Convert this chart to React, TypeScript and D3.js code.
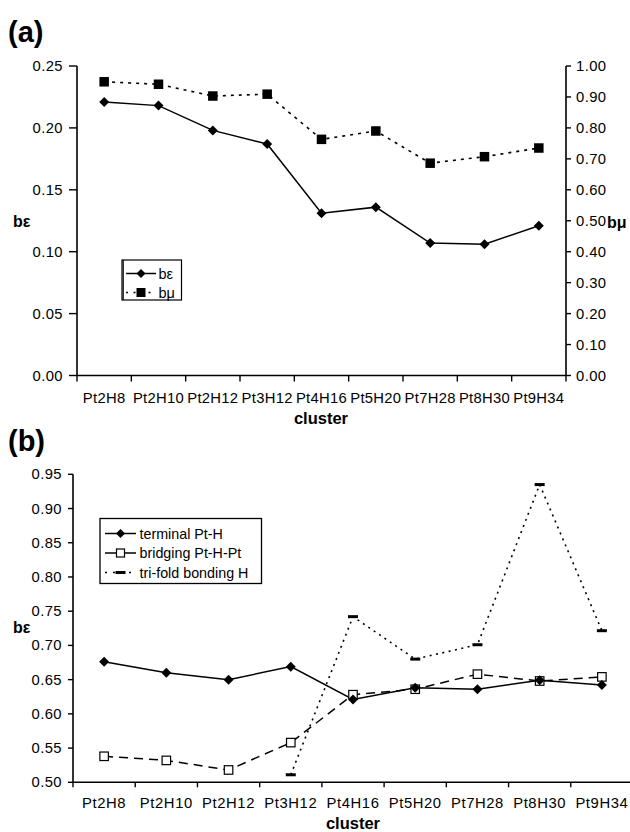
import React from "react";
import * as d3 from "d3";

// Clusters along the x axis (shared by both panels)
const clusters = ["Pt2H8", "Pt2H10", "Pt2H12", "Pt3H12", "Pt4H16", "Pt5H20", "Pt7H28", "Pt8H30", "Pt9H34"];

// Panel (a): bε on the left axis, bμ on the right axis
const bEps = [0.221, 0.218, 0.198, 0.187, 0.131, 0.136, 0.107, 0.106, 0.121];
const bMu = [0.949, 0.941, 0.903, 0.909, 0.763, 0.79, 0.686, 0.707, 0.735];
const ticksA_left = [0, 0.05, 0.1, 0.15, 0.2, 0.25];
const ticksA_right = [0, 0.1, 0.2, 0.3, 0.4, 0.5, 0.6, 0.7, 0.8, 0.9, 1.0];

// Panel (b): bε of the three kinds of hydrogen
const terminal = [0.676, 0.66, 0.65, 0.669, 0.621, 0.638, 0.636, 0.649, 0.642];
const bridging = [0.538, 0.532, 0.518, 0.558, 0.628, 0.636, 0.658, 0.648, 0.654];
const trifold: (number | null)[] = [null, null, null, 0.511, 0.742, 0.68, 0.701, 0.935, 0.7215];
const ticksB = [0.5, 0.55, 0.6, 0.65, 0.7, 0.75, 0.8, 0.85, 0.9, 0.95];

const FONT = "'Liberation Sans', Arial, sans-serif";
const fmt = d3.format(".2f");

function Diamond({ x, y, r = 5 }: { x: number; y: number; r?: number }) {
  return <path d={`M${x},${y - r}L${x + r},${y}L${x},${y + r}L${x - r},${y}Z`} fill="#000" />;
}

function Square({ x, y, s = 9, open = false }: { x: number; y: number; s?: number; open?: boolean }) {
  return (
    <rect
      x={x - s / 2}
      y={y - s / 2}
      width={s}
      height={s}
      fill={open ? "#fff" : "#000"}
      stroke="#000"
      strokeWidth={open ? 1.2 : 0}
    />
  );
}

function Dash({ x, y }: { x: number; y: number }) {
  return <rect x={x - 5} y={y - 1.5} width={10} height={3} fill="#000" />;
}

function PanelA() {
  const x = d3.scaleBand<string>().domain(clusters).range([77, 566]);
  const yL = d3.scaleLinear().domain([0, 0.25]).range([375.5, 66]);
  const yR = d3.scaleLinear().domain([0, 1]).range([375.5, 66]);
  const cx = (c: string) => (x(c) ?? 0) + x.bandwidth() / 2;
  const lineL = d3.line<number>().x((_, i) => cx(clusters[i])).y((d) => yL(d));
  const lineR = d3.line<number>().x((_, i) => cx(clusters[i])).y((d) => yR(d));
  const y0 = yL(0);
  const bounds = clusters.map((c) => x(c) ?? 0).concat([x.range()[1]]);

  return (
    <g fontFamily={FONT} fill="#000">
      <text x={8} y={42} fontSize={29} fontWeight="bold">(a)</text>

      {/* left axis */}
      <line x1={77} x2={77} y1={66} y2={y0} stroke="#000" strokeWidth={1.6} />
      {ticksA_left.map((t) => (
        <g key={t}>
          <line x1={69} x2={77} y1={yL(t)} y2={yL(t)} stroke="#000" strokeWidth={1.4} />
          <text x={63} y={yL(t) + 5} fontSize={14.8} textAnchor="end" letterSpacing={0.4}>{fmt(t)}</text>
        </g>
      ))}
      <text x={13} y={227} fontSize={16} fontWeight="bold">bε</text>

      {/* right axis */}
      <line x1={566} x2={566} y1={66} y2={y0} stroke="#000" strokeWidth={1.6} />
      {ticksA_right.map((t) => (
        <g key={t}>
          <line x1={566} x2={571} y1={yR(t)} y2={yR(t)} stroke="#000" strokeWidth={1.4} />
          <text x={576} y={yR(t) + 5} fontSize={14.8} letterSpacing={0.4}>{fmt(t)}</text>
        </g>
      ))}
      <text x={607} y={228} fontSize={16} fontWeight="bold">bμ</text>

      {/* x axis */}
      <line x1={77} x2={566} y1={y0} y2={y0} stroke="#000" strokeWidth={1.6} />
      {bounds.map((b, i) => (
        <line key={i} x1={b} x2={b} y1={y0} y2={y0 + 6} stroke="#000" strokeWidth={1.4} />
      ))}
      {clusters.map((c) => (
        <text key={c} x={cx(c)} y={403} fontSize={14.8} textAnchor="middle" letterSpacing={0.3}>{c}</text>
      ))}
      <text x={321} y={424} fontSize={16.5} fontWeight="bold" textAnchor="middle">cluster</text>

      {/* series */}
      <path d={lineR(bMu) ?? ""} fill="none" stroke="#000" strokeWidth={1.6} strokeDasharray="3,5" />
      <path d={lineL(bEps) ?? ""} fill="none" stroke="#000" strokeWidth={1.5} />
      {bMu.map((v, i) => <Square key={i} x={cx(clusters[i])} y={yR(v)} s={9.5} />)}
      {bEps.map((v, i) => <Diamond key={i} x={cx(clusters[i])} y={yL(v)} r={5} />)}

      {/* legend */}
      <rect x={122} y={260} width={59.5} height={40} fill="#fff" stroke="#000" strokeWidth={1.2} />
      <line x1={123.2} x2={123.2} y1={260} y2={300} stroke="#000" strokeWidth={1.2} />
      <line x1={126} x2={156} y1={273.5} y2={273.5} stroke="#000" strokeWidth={1.5} />
      <Diamond x={141} y={273.5} r={4.5} />
      <text x={158.5} y={278.5} fontSize={14.5}>bε</text>
      <line x1={126} x2={156} y1={292.5} y2={292.5} stroke="#000" strokeWidth={1.6} strokeDasharray="2,5.5" />
      <Square x={141} y={292.5} s={9} />
      <text x={158.5} y={297.5} fontSize={14.5}>bμ</text>
    </g>
  );
}

function PanelB() {
  const x = d3.scaleBand<string>().domain(clusters).range([73, 633]);
  const y = d3.scaleLinear().domain([0.5, 0.95]).range([782.3, 474.3]);
  const cx = (c: string) => (x(c) ?? 0) + x.bandwidth() / 2;
  const line = d3
    .line<number | null>()
    .defined((d) => d !== null)
    .x((_, i) => cx(clusters[i]))
    .y((d) => y(d as number));
  const y0 = y(0.5);
  const bounds = clusters.map((c) => x(c) ?? 0).concat([x.range()[1]]);

  return (
    <g fontFamily={FONT} fill="#000">
      <text x={8} y={451} fontSize={29} fontWeight="bold">(b)</text>

      {/* y axis */}
      <line x1={73} x2={73} y1={474.3} y2={y0} stroke="#000" strokeWidth={1.6} />
      {ticksB.map((t) => (
        <g key={t}>
          <line x1={68} x2={73} y1={y(t)} y2={y(t)} stroke="#000" strokeWidth={1.4} />
          <text x={62} y={y(t) + 5} fontSize={14.8} textAnchor="end" letterSpacing={0.4}>{fmt(t)}</text>
        </g>
      ))}
      <text x={13} y={633} fontSize={16} fontWeight="bold">bε</text>

      {/* x axis */}
      <line x1={73} x2={633} y1={y0} y2={y0} stroke="#000" strokeWidth={1.6} />
      {bounds.map((b, i) => (
        <line key={i} x1={b} x2={b} y1={y0} y2={y0 + 5} stroke="#000" strokeWidth={1.4} />
      ))}
      {clusters.map((c) => (
        <text key={c} x={cx(c)} y={808} fontSize={14.8} textAnchor="middle" letterSpacing={0.6}>{c}</text>
      ))}
      <text x={353} y={829} fontSize={16.5} fontWeight="bold" textAnchor="middle">cluster</text>

      {/* series */}
      <path d={line(trifold) ?? ""} fill="none" stroke="#000" strokeWidth={1.6} strokeDasharray="2,4.5" />
      <path d={line(bridging) ?? ""} fill="none" stroke="#000" strokeWidth={1.5} strokeDasharray="9,6" />
      <path d={line(terminal) ?? ""} fill="none" stroke="#000" strokeWidth={1.5} />
      {trifold.map((v, i) => (v === null ? null : <Dash key={i} x={cx(clusters[i])} y={y(v)} />))}
      {bridging.map((v, i) => <Square key={i} x={cx(clusters[i])} y={y(v)} s={8.5} open />)}
      {terminal.map((v, i) => <Diamond key={i} x={cx(clusters[i])} y={y(v)} r={5} />)}

      {/* legend */}
      <rect x={100} y={518.5} width={161.5} height={65} fill="#fff" stroke="#000" strokeWidth={1.3} />
      <line x1={105} x2={136} y1={533.5} y2={533.5} stroke="#000" strokeWidth={1.5} />
      <Diamond x={120.5} y={533.5} r={4.5} />
      <text x={139.5} y={538.5} fontSize={14.3}>terminal Pt-H</text>
      <line x1={105} x2={136} y1={553} y2={553} stroke="#000" strokeWidth={1.5} />
      <Square x={120.5} y={553} s={8} open />
      <text x={139.5} y={558} fontSize={14.3}>bridging Pt-H-Pt</text>
      <line x1={105} x2={136} y1={572.5} y2={572.5} stroke="#000" strokeWidth={1.6} strokeDasharray="2,6" />
      <Dash x={120.5} y={572.5} />
      <text x={139.5} y={577.5} fontSize={14.3}>tri-fold bonding H</text>
    </g>
  );
}

export default function App() {
  return (
    <svg
      width={630}
      height={832}
      viewBox="0 0 630 832"
      style={{ position: "absolute", left: 0, top: 0, background: "#fff" }}
    >
      <rect width={630} height={832} fill="#fff" />
      <PanelA />
      <PanelB />
    </svg>
  );
}
